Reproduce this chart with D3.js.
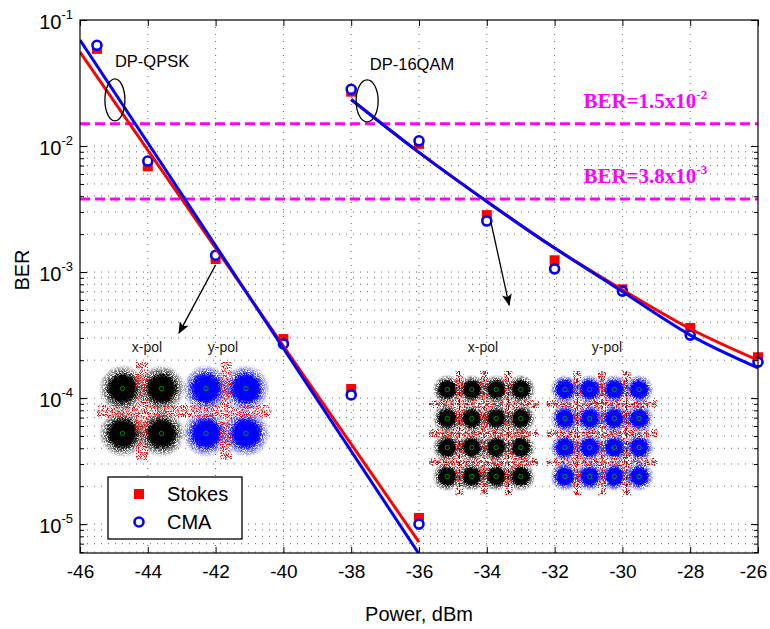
<!DOCTYPE html>
<html>
<head>
<meta charset="utf-8">
<script src="https://cdnjs.cloudflare.com/ajax/libs/d3/7.8.5/d3.min.js"></script>
<style>
  body { margin: 0; background: #fff; }
  svg { font-family: "Liberation Sans", Arial, sans-serif; }
</style>
</head>
<body>
<svg id="chart" width="770" height="629"></svg>
<script>
// measured points
var qpskPower  = [-45.5, -44, -42, -40, -38, -36];
var qpskStokes = [0.059, 0.0069, 0.00127, 2.94e-4, 1.18e-4, 1.12e-5];
var qpskCMA    = [0.063, 0.0076, 0.00136, 2.69e-4, 1.06e-4, 1.0e-5];

var qamPower  = [-38, -36, -34, -32, -30, -28, -26];
var qamStokes = [0.027, 0.0104, 0.00283, 0.00124, 7.3e-4, 3.6e-4, 2.11e-4];
var qamCMA    = [0.0282, 0.0110, 0.00254, 0.00106, 7.06e-4, 3.16e-4, 1.93e-4];

// fitted curves
var qpskFitPower  = [-46, -36];
var qpskFitStokes = [0.0557, 7.2e-6];
var qpskFitCMA    = [0.0693, 5.8e-6];
var qamFitPower  = [-38, -36, -34, -32, -30, -28, -26];
var qamFitStokes = [0.0234, 0.0089, 0.00363, 0.00155, 7.24e-4, 3.55e-4, 2.0e-4];
var qamFitCMA    = [0.0234, 0.0089, 0.00363, 0.00155, 7.0e-4, 3.16e-4, 1.74e-4];

// FEC thresholds
var thresholds  = [0.015, 0.0038];
var threshText  = ["BER=1.5x10", "BER=3.8x10"];
var threshExp   = ["-2", "-3"];

var xTicks = [-46, -44, -42, -40, -38, -36, -34, -32, -30, -28, -26];
var yMajor = [1e-5, 1e-4, 1e-3, 1e-2, 1e-1];

var margin = { top: 20, right: 12, bottom: 76, left: 80 };
var width = 770 - margin.left - margin.right,
    height = 629 - margin.top - margin.bottom;

var x = d3.scaleLinear().domain([-46, -26]).range([0, width]);
var y = d3.scaleLog().domain([5.9e-6, 0.1]).range([height, 0]);

var root = d3.select('#chart');
var defs = root.append('defs');

defs.append('clipPath').attr('id', 'plotclip')
    .append('rect').attr('width', width).attr('height', height);

// speckle for the constellation clouds
function grainFilter(id, gain, offset, seed) {
  var f = defs.append('filter').attr('id', id)
              .attr('x', '-20%').attr('y', '-20%').attr('width', '140%').attr('height', '140%');
  f.append('feTurbulence').attr('type', 'fractalNoise').attr('baseFrequency', 1.1)
   .attr('numOctaves', 2).attr('seed', seed).attr('result', 'noise');
  f.append('feColorMatrix').attr('in', 'noise').attr('type', 'matrix')
   .attr('values', '0 0 0 0 0  0 0 0 0 0  0 0 0 0 0  0 0 0 ' + gain + ' ' + offset).attr('result', 'mask');
  f.append('feComposite').attr('in', 'SourceGraphic').attr('in2', 'mask').attr('operator', 'in');
}
grainFilter('grain', 6, -2.2, 4);
grainFilter('grainSparse', 9, -4.6, 7);

function blobGrad(id, color, solid) {
  var g = defs.append('radialGradient').attr('id', id);
  g.append('stop').attr('offset', '0%').attr('stop-color', color).attr('stop-opacity', 1);
  g.append('stop').attr('offset', solid).attr('stop-color', color).attr('stop-opacity', 1);
  g.append('stop').attr('offset', '100%').attr('stop-color', color).attr('stop-opacity', 0);
}
blobGrad('gBlack', '#000', '55%');
blobGrad('gBlue', '#0000ff', '55%');
blobGrad('gBlackCore', '#000', '70%');
blobGrad('gBlueCore', '#0000ff', '70%');

defs.append('marker').attr('id', 'arrow').attr('viewBox', '0 0 12 10')
    .attr('refX', 11).attr('refY', 5).attr('markerWidth', 12).attr('markerHeight', 10)
    .attr('markerUnits', 'userSpaceOnUse').attr('orient', 'auto')
    .append('path').attr('d', 'M0,0 L12,5 L0,10 L3,5 Z').attr('fill', '#000');

var svg = root.append('g').attr('transform', 'translate(' + margin.left + ',' + margin.top + ')');

// grid
var gridX = xTicks.slice(1, -1);
var gridY = [];
[1e-6, 1e-5, 1e-4, 1e-3].forEach(function (dec) {
  for (var k = 1; k <= 9; k++) { if (dec * k >= 5.9e-6) gridY.push(dec * k); }
});
gridY.push(1e-2);

var grid = svg.append('g').attr('stroke', '#666').attr('stroke-width', 1).attr('stroke-dasharray', '1,6');
grid.selectAll('.gx').data(gridX).enter().append('line')
    .attr('x1', function (d) { return x(d); }).attr('x2', function (d) { return x(d); })
    .attr('y1', 0).attr('y2', height);
grid.selectAll('.gy').data(gridY).enter().append('line')
    .attr('x1', 0).attr('x2', width)
    .attr('y1', function (d) { return y(d); }).attr('y2', function (d) { return y(d); });

// constellation insets
var insets = [
  { label: 'x-pol', lx: 67,  cx: 62,  cy: 391, n: 2, dx: 39,   dy: 45, r: 24, col: 'Black' },
  { label: 'y-pol', lx: 143, cx: 146, cy: 391, n: 2, dx: 40,   dy: 45, r: 24, col: 'Blue' },
  { label: 'x-pol', lx: 403, cx: 404, cy: 413, n: 4, dx: 24.5, dy: 29, r: 15, col: 'Black' },
  { label: 'y-pol', lx: 527, cx: 522, cy: 413, n: 4, dx: 24.7, dy: 29, r: 15, col: 'Blue' }
];

insets.forEach(function (s) {
  var g = svg.append('g');
  var pts = [];
  for (var i = 0; i < s.n; i++) for (var j = 0; j < s.n; j++) {
    pts.push([s.cx + (i - (s.n - 1) / 2) * s.dx, s.cy + (j - (s.n - 1) / 2) * s.dy]);
  }
  g.append('g').attr('filter', 'url(#grain)').selectAll('circle').data(pts).enter().append('circle')
   .attr('cx', function (d) { return d[0]; }).attr('cy', function (d) { return d[1]; })
   .attr('r', s.r).attr('fill', 'url(#g' + s.col + ')');
  g.append('g').selectAll('circle').data(pts).enter().append('circle')
   .attr('cx', function (d) { return d[0]; }).attr('cy', function (d) { return d[1]; })
   .attr('r', s.r * 0.68).attr('fill', 'url(#g' + s.col + 'Core)');

  var halfW = (s.n / 2) * s.dx + 6, halfH = (s.n / 2) * s.dy + 4;
  var bounds = [];
  for (var b = 1; b < s.n; b++) bounds.push(b - s.n / 2);
  var red = g.append('g').attr('filter', 'url(#grainSparse)').attr('stroke', '#ff0000')
             .attr('stroke-width', s.n == 2 ? 12 : 8);
  bounds.forEach(function (b) {
    red.append('line').attr('x1', s.cx + b * s.dx).attr('x2', s.cx + b * s.dx)
       .attr('y1', s.cy - halfH).attr('y2', s.cy + halfH);
    red.append('line').attr('x1', s.cx - halfW).attr('x2', s.cx + halfW)
       .attr('y1', s.cy + b * s.dy).attr('y2', s.cy + b * s.dy);
  });
  if (s.n == 4) {
    var dash = g.append('g').attr('stroke', '#222').attr('stroke-width', 1).attr('stroke-dasharray', '4,3');
    bounds.forEach(function (b) {
      dash.append('line').attr('x1', s.cx + b * s.dx).attr('x2', s.cx + b * s.dx)
          .attr('y1', s.cy - halfH).attr('y2', s.cy + halfH);
      dash.append('line').attr('x1', s.cx - halfW).attr('x2', s.cx + halfW)
          .attr('y1', s.cy + b * s.dy).attr('y2', s.cy + b * s.dy);
    });
  } else {
    var thin = g.append('g').attr('stroke', '#888').attr('stroke-width', 0.8).attr('stroke-dasharray', '3,3');
    thin.append('line').attr('x1', s.cx).attr('x2', s.cx).attr('y1', s.cy - halfH).attr('y2', s.cy + halfH);
    thin.append('line').attr('x1', s.cx - halfW).attr('x2', s.cx + halfW).attr('y1', s.cy).attr('y2', s.cy);
  }
  g.append('g').selectAll('circle').data(pts).enter().append('circle')
   .attr('cx', function (d) { return d[0]; }).attr('cy', function (d) { return d[1]; })
   .attr('r', 2.2).attr('fill', 'none').attr('stroke', '#00b000').attr('stroke-width', 0.8);
  g.append('text').attr('x', s.lx).attr('y', 332).attr('text-anchor', 'middle')
   .attr('font-size', '14px').attr('fill', '#222').text(s.label);
});

// threshold lines
svg.append('g').selectAll('line').data(thresholds).enter().append('line')
   .attr('x1', 0).attr('x2', width)
   .attr('y1', function (d) { return y(d); }).attr('y2', function (d) { return y(d); })
   .attr('stroke', '#ff00ff').attr('stroke-width', 3).attr('stroke-dasharray', '10,5');

thresholds.forEach(function (t, i) {
  var tx = svg.append('text').attr('x', x(-31.15)).attr('y', y(t) - 16)
              .attr('font-family', '"Liberation Serif", "Times New Roman", serif')
              .attr('font-weight', 'bold').attr('font-size', '21px').attr('fill', '#ff00ff');
  tx.append('tspan').text(threshText[i]);
  tx.append('tspan').attr('dy', '-9').attr('font-size', '13px').text(threshExp[i]);
});

// markers
function markers(px, vals, shape) {
  var g = svg.append('g');
  var data = px.map(function (p, i) { return [p, vals[i]]; });
  if (shape == 'square') {
    g.selectAll('rect').data(data).enter().append('rect')
     .attr('x', function (d) { return x(d[0]) - 5; }).attr('y', function (d) { return y(d[1]) - 5; })
     .attr('width', 10).attr('height', 10).attr('fill', '#ff0000');
  } else {
    g.selectAll('circle').data(data).enter().append('circle')
     .attr('cx', function (d) { return x(d[0]); }).attr('cy', function (d) { return y(d[1]); })
     .attr('r', 4.5).attr('fill', '#fff').attr('stroke', '#0000ff').attr('stroke-width', 2.6);
  }
}
markers(qpskPower, qpskStokes, 'square');
markers(qamPower, qamStokes, 'square');
markers(qpskPower, qpskCMA, 'circle');
markers(qamPower, qamCMA, 'circle');

// fit lines
var line = d3.line().x(function (d) { return x(d[0]); }).y(function (d) { return y(d[1]); });
var lineSmooth = d3.line().curve(d3.curveNatural)
                   .x(function (d) { return x(d[0]); }).y(function (d) { return y(d[1]); });
function zip(a, b) { return a.map(function (v, i) { return [v, b[i]]; }); }
var fits = svg.append('g').attr('clip-path', 'url(#plotclip)').attr('fill', 'none').attr('stroke-width', 3);
fits.append('path').attr('d', line(zip(qpskFitPower, qpskFitStokes))).attr('stroke', '#ff0000');
fits.append('path').attr('d', line(zip(qpskFitPower, qpskFitCMA))).attr('stroke', '#0000ff');
fits.append('path').attr('d', lineSmooth(zip(qamFitPower, qamFitStokes))).attr('stroke', '#ff0000');
fits.append('path').attr('d', lineSmooth(zip(qamFitPower, qamFitCMA))).attr('stroke', '#0000ff');

// annotations
svg.append('ellipse').attr('cx', x(-44.97)).attr('cy', y(0.0232)).attr('rx', 10).attr('ry', 21)
   .attr('fill', 'none').attr('stroke', '#000').attr('stroke-width', 1.3);
svg.append('ellipse').attr('cx', x(-37.53)).attr('cy', y(0.0228)).attr('rx', 11).attr('ry', 21)
   .attr('fill', 'none').attr('stroke', '#000').attr('stroke-width', 1.3);
svg.append('text').attr('x', x(-44.97)).attr('y', y(0.0424)).attr('font-size', '16.5px').text('DP-QPSK');
svg.append('text').attr('x', x(-37.45)).attr('y', y(0.0401)).attr('font-size', '16.5px').text('DP-16QAM');

svg.append('line').attr('x1', x(-42)).attr('y1', y(1.14e-3)).attr('x2', x(-43.08)).attr('y2', y(3.28e-4))
   .attr('stroke', '#000').attr('stroke-width', 1.3).attr('marker-end', 'url(#arrow)');
svg.append('line').attr('x1', x(-33.88)).attr('y1', y(2.5e-3)).attr('x2', x(-33.34)).attr('y2', y(5.47e-4))
   .attr('stroke', '#000').attr('stroke-width', 1.3).attr('marker-end', 'url(#arrow)');

// axes
function plain(d) { return String(d); }
var gxb = svg.append('g').attr('transform', 'translate(0,' + height + ')')
             .call(d3.axisBottom(x).tickValues(xTicks).tickSize(-6).tickPadding(12).tickFormat(plain));
svg.append('g').call(d3.axisTop(x).tickValues(xTicks).tickSize(-6).tickFormat(''));
var gyl = svg.append('g')
             .call(d3.axisLeft(y).tickValues(yMajor).tickSize(-7).tickPadding(7).tickFormat(''));
svg.append('g').call(d3.axisLeft(y).tickValues(gridY).tickSize(-4).tickFormat(''));
svg.append('g').attr('transform', 'translate(' + width + ',0)')
   .call(d3.axisRight(y).tickValues(yMajor).tickSize(-7).tickFormat(''));
svg.append('g').attr('transform', 'translate(' + width + ',0)')
   .call(d3.axisRight(y).tickValues(gridY).tickSize(-4).tickFormat(''));
svg.selectAll('.domain').remove();
svg.selectAll('.tick line').attr('stroke', '#000');

gxb.selectAll('.tick text').attr('font-size', '19px')
   .attr('font-family', '"Liberation Sans", Arial, sans-serif').attr('fill', '#000')
   .attr('dx', function (d) { return d == -26 ? '-5' : null; });
gyl.selectAll('.tick text').each(function (d) {
  var t = d3.select(this);
  t.text(null).attr('font-size', '20px').attr('font-family', '"Liberation Sans", Arial, sans-serif')
   .attr('fill', '#000').attr('dy', '0.4em');
  t.append('tspan').text('10');
  t.append('tspan').attr('dy', '-10').attr('font-size', '13px').text(String(Math.round(Math.log10(d))));
});

svg.append('rect').attr('width', width).attr('height', height)
   .attr('fill', 'none').attr('stroke', '#000').attr('stroke-width', 1.2);

svg.append('text').attr('x', width / 2).attr('y', 601).attr('text-anchor', 'middle')
   .attr('font-size', '20px').text('Power, dBm');
svg.append('text').attr('transform', 'rotate(-90)').attr('x', -250).attr('y', -51)
   .attr('text-anchor', 'middle').attr('font-size', '20px').text('BER');

// legend
var lg = svg.append('g').attr('transform', 'translate(28,457)');
lg.append('rect').attr('width', 134).attr('height', 62).attr('fill', '#fff')
  .attr('stroke', '#000').attr('stroke-width', 1.3);
lg.append('rect').attr('x', 26).attr('y', 12).attr('width', 10).attr('height', 10).attr('fill', '#ff0000');
lg.append('circle').attr('cx', 31).attr('cy', 45).attr('r', 4.5).attr('fill', '#fff')
  .attr('stroke', '#0000ff').attr('stroke-width', 2.6);
lg.append('text').attr('x', 59).attr('y', 24).attr('font-size', '20px').text('Stokes');
lg.append('text').attr('x', 59).attr('y', 52).attr('font-size', '20px').text('CMA');
</script>
</body>
</html>
